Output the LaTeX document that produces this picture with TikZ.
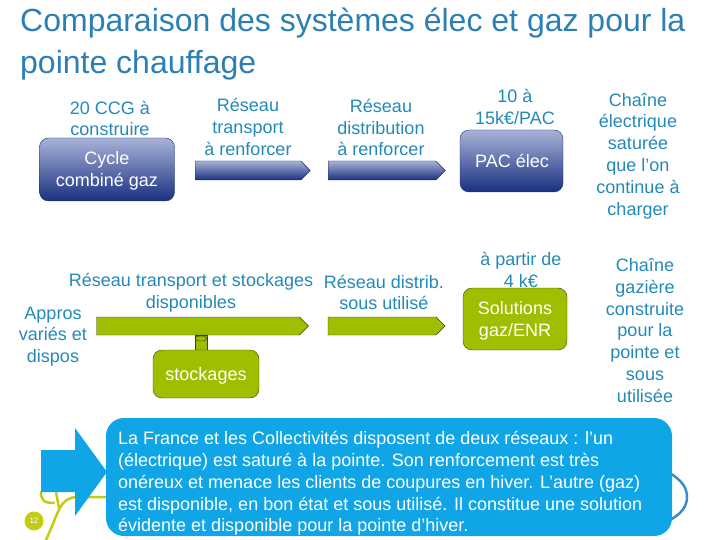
\documentclass[tikz,border=0pt]{standalone}
\usepackage{fontspec}
\setmainfont{Liberation Sans}
\usetikzlibrary{shapes.symbols,shapes.geometric}
\definecolor{ink}{HTML}{2389B8}
\definecolor{heading}{HTML}{2B7FB5}
\definecolor{topblue}{HTML}{A8B2D8}
\definecolor{lowblue}{HTML}{1A3080}
\definecolor{edgeblue}{HTML}{1B2F6B}
\definecolor{leaf}{HTML}{9FBE00}
\definecolor{edgeleaf}{HTML}{34460A}
\definecolor{callout}{HTML}{0FA5E6}
\definecolor{swoosh}{HTML}{C3CC12}
\definecolor{ring}{HTML}{3A8DC5}

\begin{document}
\begin{tikzpicture}[
  x=1pt,y=-1pt,
  font=\fontsize{18}{21.8}\selectfont,
  lab/.style={align=center,text=ink,inner sep=0pt},
  boxlab/.style={align=center,text=white,inner sep=0pt},
  bluebox/.style={draw=edgeblue,top color=topblue,bottom color=lowblue,rounded corners=9pt,inner sep=0pt},
  leafbox/.style={draw=edgeleaf,fill=leaf,rounded corners=9pt,inner sep=0pt},
  bluearr/.style={signal,signal to=east,signal pointer angle=90,draw=edgeblue,top color=topblue,bottom color=lowblue,inner sep=0pt,minimum height=19pt},
  leafarr/.style={signal,signal to=east,signal pointer angle=90,draw=edgeleaf,fill=leaf,inner sep=0pt,minimum height=18pt}
]
\useasboundingbox (0,0) rectangle (720,540);

\node[anchor=north west,align=left,text=heading,inner sep=0pt,font=\fontsize{32}{42}\selectfont] (title) at (20,8) {Comparaison des systèmes élec et gaz pour la\\pointe chauffage};

\node[lab] (ccg) at (110,118.5) {20 CCG à\\construire};
\node[bluebox,minimum width=135pt,minimum height=63pt] (cycle) at (107,169.5) {};
\node[boxlab] (cyclelab) at (107,171) {Cycle\\combiné gaz};

\node[bluearr,minimum width=115pt] (transport) at (248,170.5) {};
\node[lab] (transportlab) at (248,127) {Réseau\\transport\\à renforcer};
\node[bluearr,minimum width=117pt] (distrib) at (382,170.5) {};
\node[lab] (distriblab) at (381,127.5) {Réseau\\distribution\\à renforcer};

\node[lab] (prixpac) at (515,107) {10 à\\15k€/PAC};
\node[bluebox,minimum width=103pt,minimum height=62pt] (pac) at (511.5,161) {};
\node[boxlab] (paclab) at (512,161) {PAC élec};
\node[lab] (chaineelec) at (638,156) {Chaîne\\électrique\\saturée\\que l’on\\continue à\\charger};

\node[lab] (transportdispo) at (191,292.5) {Réseau transport et stockages\\disponibles};
\node[lab] (distribsous) at (384,292.5) {Réseau distrib.\\sous utilisé};
\node[lab] (appros) at (53,336.5) {Appros\\variés et\\dispos};
\node[leafarr,minimum width=212pt] (greentransport) at (198,326) {};
\node[leafarr,minimum width=117pt] (greendistrib) at (382,326) {};
\node[cylinder,shape border rotate=90,shape aspect=2.2,draw=edgeleaf,fill=leaf,inner sep=0pt,minimum width=12pt,minimum height=15pt] (reservoir) at (201,342.5) {};
\draw[edgeleaf,fill=leaf] (201,338.5) ellipse [x radius=6,y radius=2.5];
\node[leafbox,minimum width=106pt,minimum height=48pt] (stockages) at (206,374) {};
\node[boxlab] (stockageslab) at (206,376) {stockages};

\node[lab] (prixgaz) at (521,270) {à partir de\\4 k€};
\node[leafbox,minimum width=104pt,minimum height=62pt] (solutions) at (515,319) {};
\node[boxlab] (solutionslab) at (515,321) {Solutions\\gaz/ENR};
\node[lab] (chainegaz) at (645,330.5) {Chaîne\\gazière\\construite\\pour la\\pointe et\\sous\\utilisée};

\draw[ring,line width=2.5pt] (668,472) .. controls (682,480) and (687,488) .. (687,497) .. controls (687,506) and (682,514) .. (668,521);
\draw[swoosh,line width=2.5pt] (41,491) .. controls (41,501) and (44,503) .. (55,503);
\draw[swoosh,line width=2.5pt] (46,540) .. controls (52,527) and (56,515) .. (60,508) .. controls (64,500) and (70,497) .. (78,497) -- (110,497);
\draw[swoosh,line width=2.5pt] (56,492) -- (59,508);
\node[circle,fill=swoosh,text=white,inner sep=0pt,minimum size=19pt,font=\fontsize{8}{10}\selectfont] (pagenum) at (34,521) {12};

\fill[callout] (41,450) -- (75,450) -- (75,428) -- (107,472) -- (75,516) -- (75,492) -- (41,492) -- cycle;
\node[fill=callout,rounded corners=18pt,minimum width=566pt,minimum height=118pt,inner sep=0pt] (message) at (389,477) {};
\node[anchor=west,align=left,text=white,inner sep=0pt] (messagetext) at (118,483.5) {La France et les Collectivités disposent de deux réseaux : l’un\\(électrique) est saturé à la pointe. Son renforcement est très\\onéreux et menace les clients de coupures en hiver. L’autre (gaz)\\est disponible, en bon état et sous utilisé. Il constitue une solution\\évidente et disponible pour la pointe d’hiver.};
\end{tikzpicture}
\end{document}
